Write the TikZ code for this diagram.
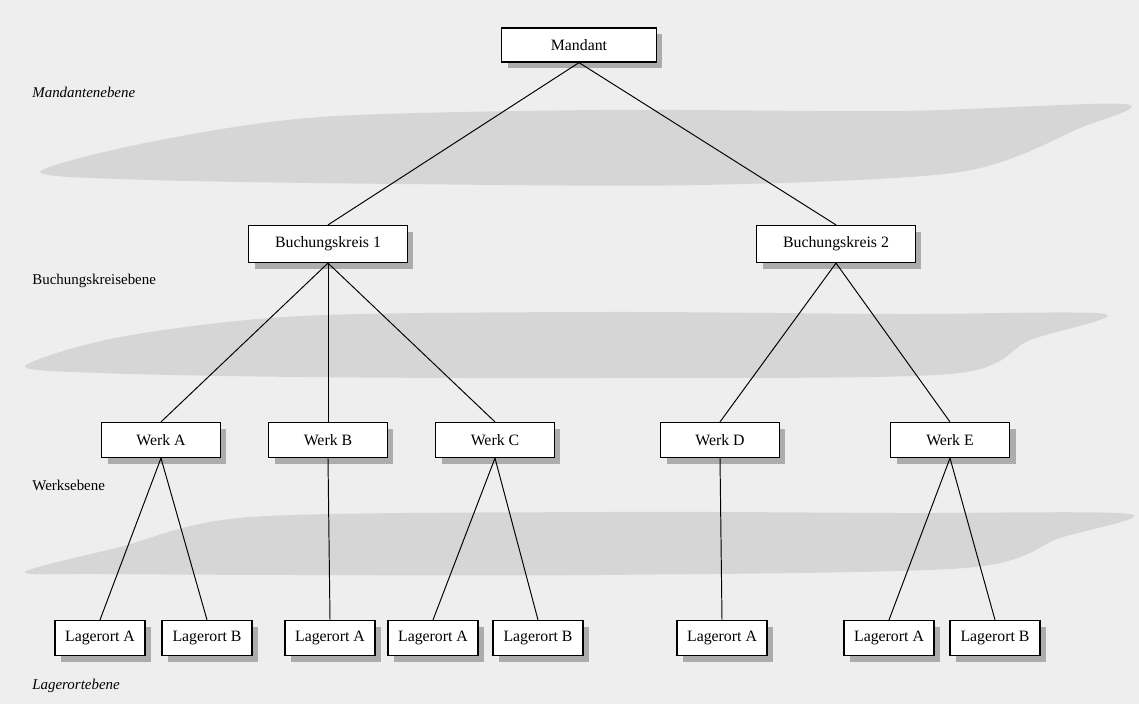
\documentclass[tikz,border=0pt]{standalone}
\usepackage{fontspec}
\setmainfont{Liberation Serif}
\usepackage{tikz}
\usetikzlibrary{shadows}

\tikzset{
  orgbox/.style={draw, fill=white, line width=0.7pt, inner sep=0pt,
    font=\fontsize{9}{11}\selectfont,
    drop shadow={shadow xshift=0.12cm, shadow yshift=-0.12cm, fill=gray!65, opacity=1}},
  mbox/.style={orgbox, minimum width=3.1cm, minimum height=0.68cm},
  bkbox/.style={orgbox, minimum width=3.18cm, minimum height=0.74cm},
  werkbox/.style={orgbox, minimum width=2.38cm, minimum height=0.7cm},
  lagbox/.style={orgbox, minimum width=1.8cm, minimum height=0.7cm},
  levellabel/.style={anchor=west, inner sep=0pt, font=\fontsize{8.5}{10}\selectfont},
  band/.style={fill=gray!32, draw=none},
  link/.style={line width=0.55pt}
}

\begin{document}
\begin{tikzpicture}[x=0.02cm, y=-0.02cm]

\useasboundingbox (0,0) rectangle (1139,704);
\fill[gray!13] (0,0) rectangle (1139,704);

% Baender zwischen den Ebenen
\fill[band] plot [smooth cycle, tension=0.5] coordinates {(40,172)(150,142)(320,117)(600,110)(900,111)(1125,104)(1080,128)(960,172)(700,185)(400,184)(150,180)};
\fill[band] plot [smooth cycle, tension=0.5] coordinates {(25,366)(120,337)(300,316)(600,312)(900,314)(1105,314)(1030,340)(950,374)(600,378)(300,377)(100,373)};
\fill[band] plot [smooth cycle, tension=0.5] coordinates {(25,572)(120,547)(250,517)(600,512)(900,513)(1130,514)(1060,538)(965,568)(600,575)(300,575)(100,574)};

% Ebenen
\node[levellabel] (lblM) at (32,92) {\itshape Mandantenebene};
\node[levellabel] (lblB) at (32,281) {Buchungskreisebene};
\node[levellabel] (lblW) at (32,485) {Werksebene};
\node[levellabel] (lblL) at (32,686) {\itshape Lagerortebene};

% Knoten
\node[mbox] (mandant) at (579,45) {Mandant};

\node[bkbox] (bk1) at (328,244) {Buchungskreis 1};
\node[bkbox] (bk2) at (836,244) {Buchungskreis 2};

\node[werkbox] (werkA) at (161,440) {Werk A};
\node[werkbox] (werkB) at (328,440) {Werk B};
\node[werkbox] (werkC) at (495,440) {Werk C};
\node[werkbox] (werkD) at (720,440) {Werk D};
\node[werkbox] (werkE) at (950,440) {Werk E};

\node[lagbox] (lagAA) at (100,638) {Lagerort A};
\node[lagbox] (lagAB) at (207,638) {Lagerort B};
\node[lagbox] (lagBA) at (330,638) {Lagerort A};
\node[lagbox] (lagCA) at (433,638) {Lagerort A};
\node[lagbox] (lagCB) at (538,638) {Lagerort B};
\node[lagbox] (lagDA) at (722,638) {Lagerort A};
\node[lagbox] (lagEA) at (889,638) {Lagerort A};
\node[lagbox] (lagEB) at (995,638) {Lagerort B};

% Verbindungen
\draw[link] (mandant.south) -- (bk1.north);
\draw[link] (mandant.south) -- (bk2.north);

\foreach \w in {werkA,werkB,werkC}
\draw[link] (bk1.south) -- (\w.north);
\foreach \w in {werkD,werkE}
\draw[link] (bk2.south) -- (\w.north);

\draw[link] (werkA.south) -- (lagAA.north);
\draw[link] (werkA.south) -- (lagAB.north);
\draw[link] (werkB.south) -- (lagBA.north);
\draw[link] (werkC.south) -- (lagCA.north);
\draw[link] (werkC.south) -- (lagCB.north);
\draw[link] (werkD.south) -- (lagDA.north);
\draw[link] (werkE.south) -- (lagEA.north);
\draw[link] (werkE.south) -- (lagEB.north);

\end{tikzpicture}
\end{document}
